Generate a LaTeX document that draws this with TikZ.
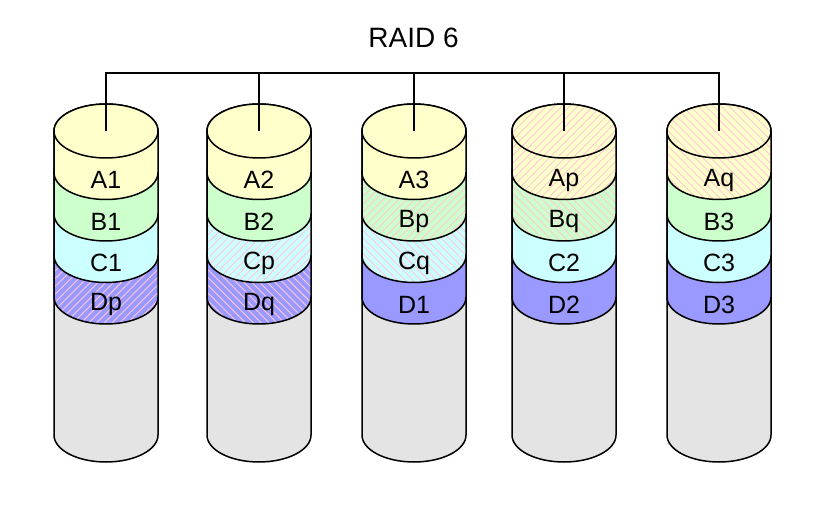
\documentclass[tikz,border=0pt]{standalone}
\usepackage{fontspec}
\setmainfont{Liberation Sans}
\usetikzlibrary{patterns.meta}
\definecolor{cA}{RGB}{255,255,204}
\definecolor{cB}{RGB}{204,255,204}
\definecolor{cC}{RGB}{204,255,255}
\definecolor{cD}{RGB}{153,153,255}
\definecolor{cG}{RGB}{228,228,228}
\definecolor{hatch}{RGB}{255,200,215}
\tikzset{
  outline/.style={draw=black,line width=1.5pt},
  hp/.style={pattern={Lines[angle=45,distance=5.5pt,line width=0.9pt]},pattern color=hatch},
  hq/.style={pattern={Lines[angle=-45,distance=5.5pt,line width=0.9pt]},pattern color=hatch},
  hn/.style={},
  lbl/.style={font=\fontsize{25}{28}\selectfont,inner sep=0pt},
  wire/.style={draw=black,line width=1.3pt},
}
\newcommand\rx{52}
\newcommand\ry{27}
% band: #1 x, #2 top y, #3 bottom y, #4 fill colour, #5 hatch style
\newcommand\drawband[5]{%
  \fill[#4] (#1-\rx,#2) -- (#1-\rx,#3) arc[start angle=180,end angle=360,x radius=\rx,y radius=\ry] -- (#1+\rx,#2) arc[start angle=0,end angle=180,x radius=\rx,y radius=\ry] -- cycle;
  \path[#5] (#1-\rx,#2) -- (#1-\rx,#3) arc[start angle=180,end angle=360,x radius=\rx,y radius=\ry] -- (#1+\rx,#2) arc[start angle=0,end angle=180,x radius=\rx,y radius=\ry] -- cycle;
  \draw[outline] (#1-\rx,#2) -- (#1-\rx,#3) arc[start angle=180,end angle=360,x radius=\rx,y radius=\ry] -- (#1+\rx,#2) arc[start angle=0,end angle=180,x radius=\rx,y radius=\ry] -- cycle;
}
\begin{document}
\begin{tikzpicture}[x=1pt,y=1pt]
\useasboundingbox (0,0) rectangle (839,-505);
\node[font=\fontsize{28}{32}\selectfont,inner sep=0pt] (title) at (413.5,-38) {RAID 6};
\foreach \i/\x/\la/\ha/\lb/\hb/\lc/\hc/\ld/\hd in {
  1/106/A1/hn/B1/hn/C1/hn/Dp/hp,
  2/259/A2/hn/B2/hn/Cp/hp/Dq/hq,
  3/414/A3/hn/Bp/hp/Cq/hq/D1/hn,
  4/564/Ap/hp/Bq/hq/C2/hn/D2/hn,
  5/719/Aq/hq/B3/hn/C3/hn/D3/hn}{
  % grey body
  \draw[outline,fill=cG] (\x-\rx,-131) -- (\x-\rx,-435) arc[start angle=180,end angle=360,x radius=\rx,y radius=\ry] -- (\x+\rx,-131);
  \drawband{\x}{-255.5}{-297}{cD}{\hd}
  \drawband{\x}{-214}{-255.5}{cC}{\hc}
  \drawband{\x}{-172.5}{-214}{cB}{\hb}
  \drawband{\x}{-131}{-172.5}{cA}{\ha}
  % top ellipse
  \fill[cA] (\x,-131) ellipse[x radius=\rx,y radius=\ry];
  \path[\ha] (\x,-131) ellipse[x radius=\rx,y radius=\ry];
  \draw[outline] (\x,-131) ellipse[x radius=\rx,y radius=\ry];
  \node[lbl] (la\i) at (\x,-180) {\la};
  \node[lbl] (lb\i) at (\x,-221.5) {\lb};
  \node[lbl] (lc\i) at (\x,-263) {\lc};
  \node[lbl] (ld\i) at (\x,-304.5) {\ld};
  \coordinate (t\i) at (\x,-131);
  \coordinate (b\i) at (\x,-73);
}
\draw[wire] (t1) -- (b1) -- (b5) -- (t5);
\draw[wire] (b2) -- (t2);
\draw[wire] (b3) -- (t3);
\draw[wire] (b4) -- (t4);
\end{tikzpicture}
\end{document}
